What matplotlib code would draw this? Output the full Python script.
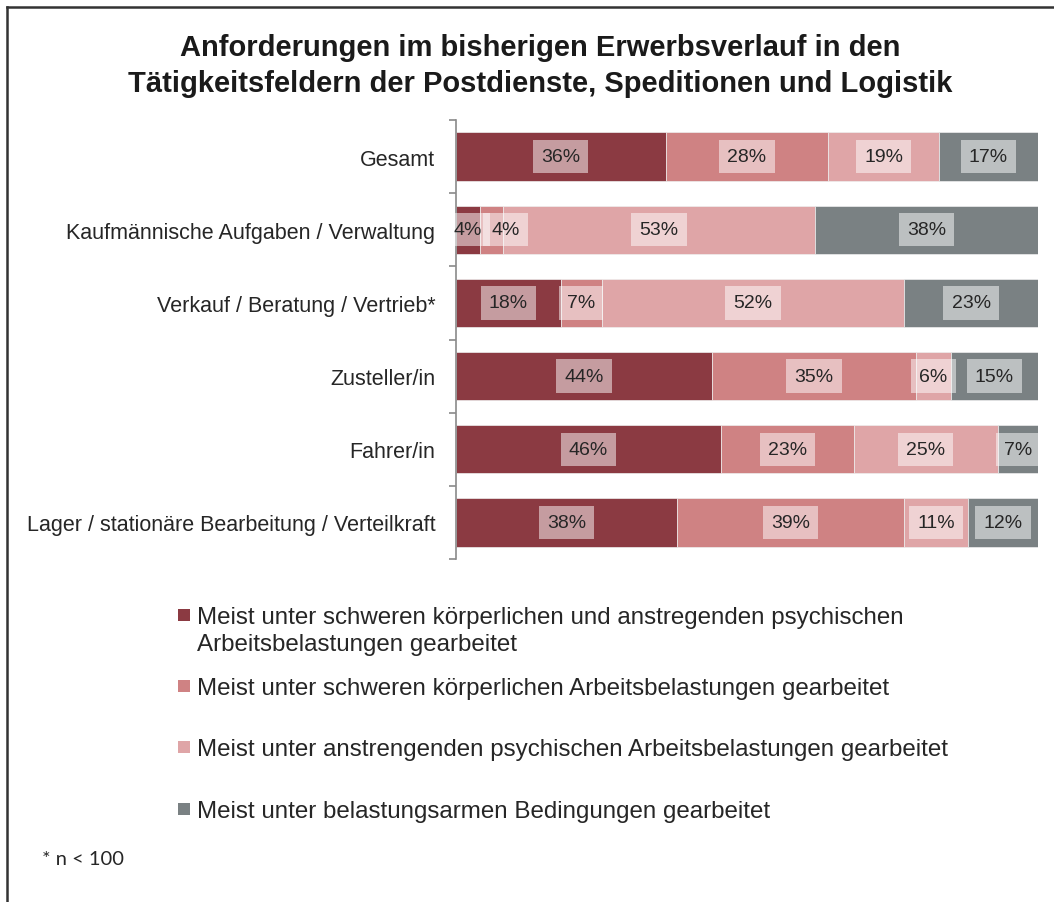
import matplotlib
matplotlib.use("Agg")
import matplotlib.pyplot as plt
from matplotlib.lines import Line2D
from matplotlib.patches import Rectangle
import numpy as np

plt.rcParams['font.family'] = ['Liberation Sans', 'DejaVu Sans']

title = "Anforderungen im bisherigen Erwerbsverlauf in den\nTätigkeitsfeldern der Postdienste, Speditionen und Logistik"
categories = [
    "Gesamt",
    "Kaufmännische Aufgaben / Verwaltung",
    "Verkauf / Beratung / Vertrieb*",
    "Zusteller/in",
    "Fahrer/in",
    "Lager / stationäre Bearbeitung / Verteilkraft",
]
series_names = [
    "Meist unter schweren körperlichen und anstregenden psychischen\nArbeitsbelastungen gearbeitet",
    "Meist unter schweren körperlichen Arbeitsbelastungen gearbeitet",
    "Meist unter anstrengenden psychischen Arbeitsbelastungen gearbeitet",
    "Meist unter belastungsarmen Bedingungen gearbeitet",
]
schwer_und_psych = [36, 4, 18, 44, 46, 38]
schwer_koerperlich = [28, 4, 7, 35, 23, 39]
psychisch = [19, 53, 52, 6, 25, 11]
belastungsarm = [17, 38, 23, 15, 7, 12]
footnote = "* n < 100"

colors = ['#8B3A42', '#CF8283', '#DFA5A7', '#7A8183']
series = [schwer_und_psych, schwer_koerperlich, psychisch, belastungsarm]

W, H = 1054, 903
fig = plt.figure(figsize=(W / 100, H / 100), dpi=100)
ax = fig.add_axes([456 / W, 1 - 560 / H, 582 / W, 439 / H])

data = np.array(series, dtype=float)  # shape (4, 6)
totals = data.sum(axis=0)
norm = data / totals * 100
y = np.arange(len(categories))
left = np.zeros(len(categories))
for i in range(len(series)):
    ax.barh(y, norm[i], left=left, height=0.66, color=colors[i],
            edgecolor='#eeeeee', linewidth=0.5)
    left = left + norm[i]

# labels
lefts = np.vstack([np.zeros(len(categories)), np.cumsum(norm, axis=0)[:-1]])
for j in range(len(categories)):
    prev = -100
    for i in range(len(series)):
        cx = lefts[i, j] + norm[i, j] / 2
        cx = max(cx, prev + 6.5)
        prev = cx
        ax.text(cx, y[j], f"{int(data[i, j])}%", ha='center', va='center',
                fontsize=14, color='#262626',
                bbox=dict(boxstyle='square,pad=0.42', facecolor='white',
                          edgecolor='none', alpha=0.5))

ax.set_xlim(0, 100)
ax.set_ylim(len(categories) - 0.5, -0.5)
ax.set_yticks(y)
ax.set_yticklabels(categories, fontsize=15.5, color='#262626')
ax.tick_params(axis='y', which='major', length=0, pad=15)
ax.set_yticks(np.arange(len(categories) + 1) - 0.5, minor=True)
ax.tick_params(axis='y', which='minor', length=5, color='#8a8a8a', width=1.2)
ax.set_xticks([])
for s in ['top', 'right', 'bottom']:
    ax.spines[s].set_visible(False)
ax.spines['left'].set_color('#8a8a8a')
ax.spines['left'].set_linewidth(1.2)

# title
fig.text(540 / W, 1 - 66 / H, title, ha='center', va='center', fontsize=21,
         fontweight='bold', color='#1a1a1a', linespacing=1.38)

# legend
legend_y = [616, 687, 748, 810]
for i, name in enumerate(series_names):
    yc = legend_y[i]
    fig.add_artist(Rectangle((178 / W, 1 - (yc + 6) / H), 12 / W, 12 / H,
                             transform=fig.transFigure, facecolor=colors[i],
                             edgecolor='none'))
    fig.text(197 / W, 1 - (yc - 9) / H, name, ha='left', va='top',
             fontsize=17.4, color='#262626', linespacing=1.32)

fig.text(42 / W, 1 - 860 / H, footnote, ha='left', va='center', fontsize=14.5,
         family=['Lato', 'DejaVu Sans'], color='#262626')

# frame
fig.add_artist(Line2D([7 / W, 1], [1 - 8 / H, 1 - 8 / H], transform=fig.transFigure,
                      color='#333333', linewidth=1.8))
fig.add_artist(Line2D([7 / W, 7 / W], [0, 1 - 8 / H], transform=fig.transFigure,
                      color='#333333', linewidth=1.8))

fig.savefig("out.png", dpi=100)
